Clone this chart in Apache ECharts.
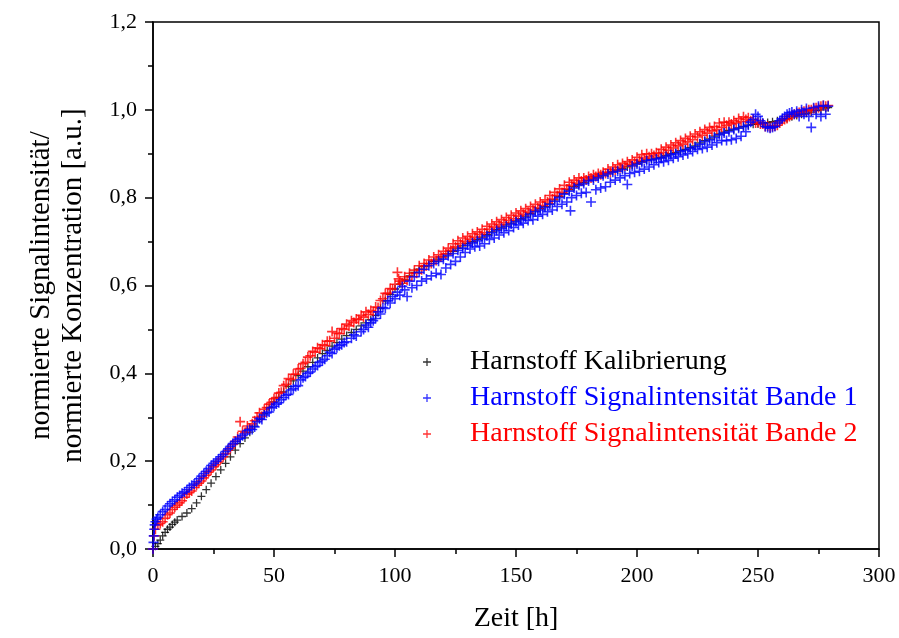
<!DOCTYPE html>
<html>
<head>
<meta charset="utf-8">
<script src="https://cdn.jsdelivr.net/npm/echarts@6/dist/echarts.min.js"></script>
<style>
  html, body { margin: 0; padding: 0; background: #fff; }
  #chart { width: 899px; height: 638px; }
</style>
</head>
<body>
<div id="chart"></div>
<script>
// Zeit [h] / normierter Wert
const kalibrierung = [
  [0,0],[1,0.006],[2,0.012],[3,0.02],[4,0.03],[5,0.038],[6,0.045],[7,0.05],[8,0.056],[9,0.061],
  [10,0.066],[12,0.074],[14,0.082],[16,0.092],[18,0.105],[20,0.12],[22,0.135],[24,0.15],[26,0.165],[28,0.18],
  [30,0.195],[32,0.21],[34,0.225],[36,0.24],[38,0.253],[40,0.266],[42,0.28],[44,0.295],[46,0.308],[48,0.322],
  [50,0.335],[52,0.345],[54,0.358],[56,0.37],[58,0.383],[60,0.395],[62,0.405],[64,0.415],[66,0.425],[68,0.435],
  [70,0.445],[72,0.452],[74,0.462],[76,0.47],[78,0.478],[80,0.486],[82,0.493],[84,0.5],[86,0.508],[88,0.515],
  [90,0.522],[92,0.532],[94,0.548],[96,0.565],[98,0.58],[100,0.592],[102,0.603],[104,0.613],[106,0.622],[108,0.63],
  [110,0.637],[112,0.643],[114,0.65],[116,0.655],[118,0.66],[120,0.665],[122,0.672],[124,0.678],[126,0.685],[128,0.69],
  [130,0.696],[132,0.7],[134,0.705],[136,0.71],[138,0.716],[140,0.722],[142,0.728],[144,0.733],[146,0.738],[148,0.742],
  [150,0.747],[152,0.752],[154,0.758],[156,0.764],[158,0.77],[160,0.775],[162,0.78],[164,0.786],[166,0.795],[168,0.803],
  [170,0.81],[172,0.818],[174,0.825],[176,0.83],[178,0.835],[180,0.84],[182,0.843],[184,0.848],[186,0.852],[188,0.856],
  [190,0.86],[192,0.863],[194,0.866],[196,0.87],[198,0.874],[200,0.878],[202,0.882],[204,0.886],[206,0.888],[208,0.89],
  [210,0.892],[212,0.896],[214,0.9],[216,0.903],[218,0.907],[220,0.91],[222,0.914],[224,0.918],[226,0.925],[228,0.93],
  [230,0.934],[232,0.94],[234,0.945],[236,0.949],[238,0.953],[240,0.956],[242,0.959],[244,0.962],[246,0.965],[248,0.967],
  [250,0.968],[252,0.97],[254,0.971],[256,0.973],[258,0.975],[260,0.978],[262,0.98],[264,0.984],[266,0.987],[268,0.99],
  [270,0.992],[272,0.995],[274,0.998],[276,1.0],[278,1.004],[279,1.005]
];

const bande1 = [
  [0,0],[0.2,0.015],[0.3,0.03],[0.5,0.045],[0.7,0.055],[1,0.062],[1.5,0.068],[2,0.072],[3,0.078],[4,0.085],
  [5,0.09],[6,0.098],[7,0.103],[8,0.108],[9,0.112],[10,0.118],[11,0.122],[12,0.127],[13,0.13],[14,0.135],
  [15,0.14],[16,0.145],[17,0.148],[18,0.153],[19,0.16],[20,0.166],[21,0.172],[22,0.177],[23,0.183],[24,0.19],
  [25,0.195],[26,0.2],[27,0.205],[28,0.21],[29,0.215],[30,0.222],[31,0.228],[32,0.234],[33,0.24],[34,0.245],
  [35,0.25],[36,0.252],[37,0.258],[38,0.262],[39,0.27],[40,0.272],[41,0.272],[42,0.278],[43,0.29],[44,0.297],
  [45,0.295],[46,0.305],[47,0.31],[48,0.312],[49,0.322],[50,0.325],[51,0.33],[52,0.333],[53,0.34],[54,0.345],
  [55,0.35],[56,0.352],[57,0.362],[58,0.365],[59,0.37],[60,0.372],[61,0.385],[62,0.39],[63,0.393],[64,0.4],
  [65,0.403],[66,0.41],[67,0.415],[68,0.418],[69,0.425],[70,0.428],[71,0.432],[72,0.44],[73,0.448],[74,0.445],
  [75,0.455],[76,0.458],[77,0.463],[78,0.465],[79,0.47],[80,0.472],[82,0.48],[83,0.488],[84,0.485],[86,0.495],
  [87,0.5],[88,0.51],[89,0.505],[90,0.515],[91,0.52],[92,0.525],[93,0.54],[94,0.535],[95,0.55],[96,0.548],
  [97,0.565],[98,0.56],[99,0.575],[100,0.57],[101,0.585],[102,0.578],[103,0.598],[104,0.59],[105,0.575],[106,0.61],
  [107,0.595],[108,0.62],[109,0.6],[110,0.63],[111,0.61],[112,0.637],[113,0.615],[114,0.645],[115,0.622],[116,0.65],
  [117,0.628],[118,0.655],[119,0.625],[120,0.66],[121,0.64],[122,0.668],[123,0.648],[124,0.673],[125,0.655],[126,0.68],
  [127,0.665],[128,0.685],[129,0.675],[130,0.692],[131,0.683],[132,0.697],[133,0.688],[134,0.702],[135,0.69],[136,0.707],
  [137,0.695],[138,0.713],[139,0.705],[140,0.72],[141,0.708],[142,0.725],[143,0.715],[144,0.73],[145,0.72],[146,0.735],
  [147,0.725],[148,0.74],[149,0.732],[150,0.745],[151,0.738],[152,0.75],[153,0.742],[154,0.755],[155,0.748],[156,0.762],
  [157,0.75],[158,0.768],[159,0.758],[160,0.772],[161,0.762],[162,0.778],[163,0.768],[164,0.785],[165,0.772],[166,0.792],
  [167,0.78],[168,0.8],[169,0.785],[170,0.808],[171,0.79],[172,0.815],[172.5,0.77],[173,0.8],[174,0.822],[175,0.805],
  [176,0.828],[177,0.81],[178,0.832],[179,0.812],[180,0.838],[181,0.79],[182,0.84],[183,0.818],[184,0.845],[185,0.822],
  [186,0.85],[187,0.825],[188,0.854],[189,0.835],[190,0.858],[191,0.84],[192,0.86],[193,0.845],[194,0.864],[195,0.85],
  [196,0.83],[197,0.855],[198,0.872],[199,0.858],[200,0.876],[201,0.86],[202,0.88],[203,0.865],[204,0.884],[205,0.87],
  [206,0.886],[207,0.875],[208,0.888],[209,0.88],[210,0.89],[211,0.882],[212,0.894],[213,0.885],[214,0.898],[215,0.89],
  [216,0.9],[217,0.893],[218,0.905],[219,0.897],[220,0.908],[221,0.9],[222,0.912],[223,0.905],[224,0.916],[225,0.91],
  [226,0.922],[227,0.912],[228,0.928],[229,0.915],[230,0.932],[231,0.92],[232,0.937],[233,0.925],[234,0.943],[235,0.93],
  [236,0.947],[237,0.93],[238,0.95],[239,0.932],[240,0.955],[241,0.935],[242,0.958],[243,0.94],[244,0.962],[245,0.95],
  [246,0.965],[247,0.972],[248,0.978],[249,0.99],[250,0.985],[251,0.975],[252,0.97],[253,0.962],[254,0.96],[255,0.958],
  [256,0.96],[257,0.962],[258,0.97],[259,0.975],[260,0.98],[261,0.985],[262,0.99],[263,0.993],[264,0.995],[265,0.99],
  [266,0.997],[267,0.985],[268,1.0],[269,0.99],[270,1.003],[271,0.985],[272,0.96],[273,1.005],[274,0.99],[275,1.008],
  [276,0.985],[277,1.01],[278,0.99],[279,1.008]
];

const bande2 = [
  [0,0],[0.5,0.03],[1,0.045],[2,0.055],[3,0.058],[4,0.062],[5,0.07],[6,0.078],[7,0.082],[8,0.09],
  [9,0.095],[10,0.1],[11,0.105],[12,0.11],[13,0.118],[14,0.125],[15,0.128],[16,0.132],[17,0.14],[18,0.145],
  [19,0.15],[20,0.155],[21,0.162],[22,0.168],[23,0.175],[24,0.18],[25,0.187],[26,0.192],[27,0.198],[28,0.205],
  [29,0.21],[30,0.217],[31,0.225],[32,0.23],[33,0.238],[34,0.245],[35,0.255],[36,0.29],[37,0.268],[38,0.265],
  [39,0.28],[40,0.275],[41,0.285],[42,0.292],[43,0.3],[44,0.31],[45,0.302],[46,0.318],[47,0.322],[48,0.33],
  [49,0.334],[50,0.342],[51,0.345],[52,0.355],[53,0.357],[54,0.372],[55,0.375],[56,0.388],[57,0.386],[58,0.398],
  [59,0.398],[60,0.41],[61,0.411],[62,0.422],[63,0.425],[64,0.437],[65,0.44],[66,0.45],[67,0.448],[68,0.458],
  [69,0.456],[70,0.465],[71,0.463],[72,0.473],[73,0.474],[74,0.495],[75,0.48],[76,0.492],[77,0.49],[78,0.502],
  [79,0.5],[80,0.512],[81,0.508],[82,0.52],[83,0.516],[84,0.524],[85,0.522],[86,0.532],[87,0.528],[88,0.54],
  [89,0.534],[90,0.543],[91,0.54],[92,0.551],[93,0.55],[94,0.566],[95,0.57],[96,0.582],[97,0.582],[98,0.593],
  [99,0.592],[100,0.603],[101,0.63],[101.5,0.615],[102,0.61],[103,0.605],[104,0.62],[105,0.612],[106,0.628],[107,0.62],
  [108,0.635],[109,0.628],[110,0.645],[111,0.636],[112,0.65],[113,0.645],[114,0.658],[115,0.65],[116,0.665],[117,0.657],
  [118,0.67],[119,0.665],[120,0.678],[121,0.672],[122,0.685],[123,0.68],[124,0.695],[125,0.688],[126,0.702],[127,0.695],
  [128,0.708],[129,0.7],[130,0.712],[131,0.705],[132,0.718],[133,0.71],[134,0.722],[135,0.716],[136,0.728],[137,0.72],
  [138,0.735],[139,0.728],[140,0.74],[141,0.733],[142,0.745],[143,0.738],[144,0.75],[145,0.743],[146,0.755],[147,0.748],
  [148,0.76],[149,0.752],[150,0.765],[151,0.758],[152,0.77],[153,0.762],[154,0.775],[155,0.767],[156,0.78],[157,0.772],
  [158,0.785],[159,0.777],[160,0.79],[161,0.782],[162,0.795],[163,0.79],[164,0.805],[165,0.797],[166,0.812],[167,0.805],
  [168,0.82],[169,0.812],[170,0.828],[171,0.82],[172,0.835],[173,0.828],[174,0.84],[175,0.833],[176,0.845],[177,0.838],
  [178,0.845],[179,0.84],[180,0.848],[181,0.845],[182,0.852],[183,0.848],[184,0.855],[185,0.852],[186,0.858],[187,0.855],
  [188,0.865],[189,0.858],[190,0.87],[191,0.863],[192,0.875],[193,0.868],[194,0.878],[195,0.872],[196,0.882],[197,0.876],
  [198,0.886],[199,0.88],[200,0.892],[201,0.885],[202,0.898],[203,0.89],[204,0.9],[205,0.893],[206,0.9],[207,0.896],
  [208,0.902],[209,0.9],[210,0.91],[211,0.903],[212,0.915],[213,0.908],[214,0.92],[215,0.913],[216,0.925],[217,0.918],
  [218,0.93],[219,0.922],[220,0.935],[221,0.927],[222,0.94],[223,0.932],[224,0.945],[225,0.938],[226,0.95],[227,0.942],
  [228,0.955],[229,0.947],[230,0.96],[231,0.952],[232,0.962],[233,0.955],[234,0.97],[235,0.96],[236,0.972],[237,0.965],
  [238,0.972],[239,0.968],[240,0.975],[241,0.97],[242,0.98],[243,0.973],[244,0.984],[245,0.978],[246,0.982],[247,0.975],
  [248,0.978],[249,0.97],[250,0.972],[251,0.968],[252,0.968],[253,0.962],[254,0.963],[255,0.96],[256,0.962],[257,0.963],
  [258,0.965],[259,0.97],[260,0.975],[261,0.978],[262,0.98],[263,0.985],[264,0.988],[265,0.99],[266,0.992],[267,0.994],
  [268,0.995],[269,0.997],[270,0.998],[271,1.0],[272,1.0],[273,1.003],[274,1.005],[275,1.005],[276,1.008],[277,1.01],
  [278,1.008],[279,1.01]
];

const seriesNames = ['Harnstoff Kalibrierung', 'Harnstoff Signalintensität Bande 1', 'Harnstoff Signalintensität Bande 2'];
const seriesColors = ['#000000', '#0000ff', '#ff0000'];

const FONT = '"Liberation Serif", "Times New Roman", serif';
// Pluszeichen als gefüllte Form
const PLUS = 'path://M0,4.2H4.2V0H5.8V4.2H10V5.8H5.8V10H4.2V5.8H0Z';

const chart = echarts.init(document.getElementById('chart'));

const comma = v => v.toFixed(1).replace('.', ',');

const option = {
  animation: false,
  backgroundColor: '#fff',
  textStyle: { fontFamily: FONT, color: '#000' },
  grid: {
    left: 153, right: 20, top: 22, bottom: 87,
    show: true, borderColor: '#000', borderWidth: 1.5, backgroundColor: 'transparent'
  },
  legend: {
    orient: 'vertical',
    left: 418,
    top: 343,
    itemWidth: 76,
    itemHeight: 8,
    itemGap: 8,
    symbolKeepAspect: true,
    data: seriesNames.map((n, i) => ({ name: n, textStyle: { color: seriesColors[i] } })),
    textStyle: { fontFamily: FONT, fontSize: 28 }
  },
  xAxis: {
    type: 'value',
    min: 0, max: 300, interval: 50,
    name: 'Zeit [h]',
    nameLocation: 'middle',
    nameGap: 56,
    nameTextStyle: { fontFamily: FONT, fontSize: 28, color: '#000' },
    axisLine: { show: true, onZero: false, lineStyle: { color: '#000', width: 1.5 } },
    axisTick: { show: true, length: 8, lineStyle: { color: '#000', width: 1.5 } },
    minorTick: { show: true, splitNumber: 2, length: 5, lineStyle: { color: '#000', width: 1.5 } },
    splitLine: { show: false },
    axisLabel: { fontFamily: FONT, fontSize: 22, color: '#000', margin: 16 }
  },
  yAxis: {
    type: 'value',
    min: 0, max: 1.2, interval: 0.2,
    name: 'normierte Signalintensität/\nnormierte Konzentration [a.u.]',
    nameLocation: 'middle',
    nameGap: 64,
    nameTextStyle: { fontFamily: FONT, fontSize: 29, color: '#000', lineHeight: 32 },
    axisLine: { show: true, onZero: false, lineStyle: { color: '#000', width: 1.5 } },
    axisTick: { show: true, length: 8, lineStyle: { color: '#000', width: 1.5 } },
    minorTick: { show: true, splitNumber: 2, length: 5, lineStyle: { color: '#000', width: 1.5 } },
    splitLine: { show: false },
    axisLabel: { fontFamily: FONT, fontSize: 22, color: '#000', margin: 16, formatter: comma }
  },
  series: [
    {
      name: seriesNames[0], type: 'scatter', data: kalibrierung,
      symbol: PLUS, symbolSize: 8, z: 2,
      itemStyle: { color: seriesColors[0] }
    },
    {
      name: seriesNames[2], type: 'scatter', data: bande2,
      symbol: PLUS, symbolSize: 10, z: 3,
      itemStyle: { color: seriesColors[2] }
    },
    {
      name: seriesNames[1], type: 'scatter', data: bande1,
      symbol: PLUS, symbolSize: 10, z: 4,
      itemStyle: { color: seriesColors[1] }
    }
  ]
};

chart.setOption(option);
</script>
</body>
</html>
